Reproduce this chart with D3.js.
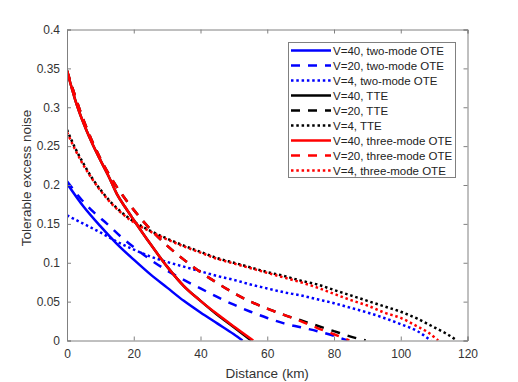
<!DOCTYPE html>
<html>
<head>
<meta charset="utf-8" />
<title>Tolerable excess noise</title>
<script src="https://d3js.org/d3.v7.min.js"></script>
<style>
  body { margin: 0; background: #fff; }
  svg { font-family: "Liberation Sans", Arial, sans-serif; }
  .tick text { fill: #333; font-size: 12px; }
</style>
</head>
<body>
<svg id="chart" width="518" height="382"></svg>
<script>
// distances (km) and tolerable excess noise
var blue40D = [0, 5, 10, 15, 20, 25, 30, 35, 40, 45, 50, 52.6];
var blue40V = [0.202, 0.172, 0.147, 0.124, 0.104, 0.085, 0.068, 0.051, 0.036, 0.022, 0.008, 0];
var blue20D = [0, 4, 8, 12, 16, 20, 25, 30, 35, 40, 45, 50, 55, 60, 65, 70, 75, 80, 84];
var blue20V = [0.205, 0.183, 0.165, 0.150, 0.134, 0.120, 0.104, 0.090, 0.078, 0.067, 0.056, 0.046, 0.037, 0.029, 0.022, 0.017, 0.012, 0.006, 0];
var blue4D = [0, 5, 10, 15, 20, 25, 30, 35, 40, 45, 50, 55, 60, 65, 70, 75, 80, 85, 90, 95, 100, 105, 109];
var blue4V = [0.161, 0.150, 0.139, 0.127, 0.117, 0.108, 0.101, 0.095, 0.089, 0.083, 0.078, 0.072, 0.067, 0.062, 0.058, 0.053, 0.048, 0.042, 0.036, 0.029, 0.021, 0.012, 0];

var black40D = [0, 2.5, 5, 7.5, 10, 12.5, 15, 17.5, 20, 25, 30, 35, 40, 45, 50, 55.2];
var black40V = [0.347, 0.309, 0.279, 0.254, 0.232, 0.211, 0.188, 0.171, 0.155, 0.124, 0.095, 0.070, 0.051, 0.033, 0.017, 0];
var black20D = [0, 5, 10, 15, 20, 25, 30, 35, 40, 45, 50, 55, 60, 65, 70, 75, 80, 85, 89.5];
var black20V = [0.347, 0.283, 0.234, 0.197, 0.168, 0.143, 0.122, 0.104, 0.088, 0.074, 0.061, 0.050, 0.041, 0.033, 0.026, 0.019, 0.012, 0.005, 0];
var black4D = [0, 2.5, 5, 7.5, 10, 12.5, 15, 20, 25, 30, 35, 40, 45, 50, 55, 60, 65, 70, 75, 80, 85, 90, 95, 100, 105, 110, 114, 116.8];
var black4V = [0.271, 0.247, 0.227, 0.209, 0.194, 0.181, 0.170, 0.153, 0.141, 0.131, 0.122, 0.114, 0.106, 0.100, 0.094, 0.088, 0.083, 0.077, 0.072, 0.065, 0.058, 0.051, 0.044, 0.037, 0.028, 0.017, 0.008, 0];

var red40D = [0, 2.5, 5, 7.5, 10, 12.5, 15, 17.5, 20, 25, 30, 35, 40, 45, 50, 55.8];
var red40V = [0.347, 0.309, 0.279, 0.254, 0.232, 0.211, 0.188, 0.171, 0.155, 0.124, 0.095, 0.070, 0.051, 0.034, 0.018, 0];
var red20D = [0, 5, 10, 15, 20, 25, 30, 35, 40, 45, 50, 55, 60, 65, 70, 75, 80, 84.6];
var red20V = [0.347, 0.283, 0.234, 0.197, 0.168, 0.143, 0.122, 0.104, 0.088, 0.074, 0.061, 0.050, 0.041, 0.033, 0.025, 0.016, 0.008, 0];
var red4D = [0, 2.5, 5, 7.5, 10, 12.5, 15, 20, 25, 30, 35, 40, 45, 50, 55, 60, 65, 70, 75, 80, 85, 90, 95, 100, 105, 108, 111.2];
var red4V = [0.268, 0.245, 0.225, 0.208, 0.193, 0.180, 0.169, 0.152, 0.140, 0.130, 0.121, 0.113, 0.105, 0.099, 0.093, 0.087, 0.081, 0.075, 0.068, 0.060, 0.052, 0.045, 0.036, 0.029, 0.018, 0.011, 0];

var seriesNames = ["V=40, two-mode OTE", "V=20, two-mode OTE", "V=4, two-mode OTE",
  "V=40, TTE", "V=20, TTE", "V=4, TTE",
  "V=40, three-mode OTE", "V=20, three-mode OTE", "V=4, three-mode OTE"];
var xTicks = [0, 20, 40, 60, 80, 100, 120];
var yTicks = [0, 0.05, 0.1, 0.15, 0.2, 0.25, 0.3, 0.35, 0.4];

var series = [
  {d: blue40D, v: blue40V, color: "#0000ff", dash: null},
  {d: blue20D, v: blue20V, color: "#0000ff", dash: "9,8"},
  {d: blue4D, v: blue4V, color: "#0000ff", dash: "2.5,2.8"},
  {d: black40D, v: black40V, color: "#000000", dash: null},
  {d: black20D, v: black20V, color: "#000000", dash: "9,8"},
  {d: black4D, v: black4V, color: "#000000", dash: "2.5,2.8"},
  {d: red40D, v: red40V, color: "#ff0000", dash: null},
  {d: red20D, v: red20V, color: "#ff0000", dash: "9,8"},
  {d: red4D, v: red4V, color: "#ff0000", dash: "2.5,2.8"}
];
series.forEach(function(s, i) { s.name = seriesNames[i]; });

var plotL = 67, plotR = 467.5, plotT = 29.5, plotB = 340.5;
var axisColor = "#808080";

var svg = d3.select("#chart");

var x = d3.scaleLinear().domain([0, 120]).range([plotL, plotR]);
var y = d3.scaleLinear().domain([0, 0.4]).range([plotB, plotT]);

svg.append("defs").append("clipPath").attr("id", "plotclip")
  .append("rect").attr("x", plotL).attr("y", plotT - 2)
  .attr("width", plotR - plotL + 2).attr("height", plotB - plotT + 2);

// curves
var line = d3.line()
  .x(function(p) { return x(p[0]); })
  .y(function(p) { return y(p[1]); })
  .curve(d3.curveMonotoneX);

svg.append("g").attr("clip-path", "url(#plotclip)")
  .selectAll("path")
  .data(series)
  .enter().append("path")
  .attr("d", function(s) { return line(d3.zip(s.d, s.v)); })
  .attr("fill", "none")
  .attr("stroke", function(s) { return s.color; })
  .attr("stroke-width", 2.5)
  .attr("stroke-dasharray", function(s) { return s.dash; });

// axes, ticks point inward as in the original
var fmtY = function(d) { return d3.format("~g")(d); };

var gx = svg.append("g").attr("transform", "translate(0," + plotB + ")")
  .call(d3.axisBottom(x).tickValues(xTicks).tickSize(-4).tickPadding(9));
var gxt = svg.append("g").attr("transform", "translate(0," + plotT + ")")
  .call(d3.axisTop(x).tickValues(xTicks).tickSize(-4).tickFormat(""));
var gy = svg.append("g").attr("transform", "translate(" + plotL + ",0)")
  .call(d3.axisLeft(y).tickValues(yTicks).tickSize(-4).tickPadding(7).tickFormat(fmtY));
var gyr = svg.append("g").attr("transform", "translate(" + plotR + ",0)")
  .call(d3.axisRight(y).tickValues(yTicks).tickSize(-4).tickFormat(""));

[gx, gxt, gy, gyr].forEach(function(g) {
  g.select(".domain").attr("stroke", axisColor).attr("stroke-width", 1);
  g.selectAll(".tick line").attr("stroke", axisColor);
  g.selectAll(".tick text").attr("font-family", "Liberation Sans, Arial, sans-serif");
});

svg.append("text")
  .attr("x", (plotL + plotR) / 2).attr("y", 378)
  .attr("text-anchor", "middle").attr("fill", "#333").attr("font-size", 13.5)
  .text("Distance (km)");

svg.append("text")
  .attr("transform", "translate(31,178) rotate(-90)")
  .attr("text-anchor", "middle").attr("fill", "#333").attr("font-size", 13.5)
  .text("Tolerable excess noise");

// legend
var lg = svg.append("g");
lg.append("rect")
  .attr("x", 288.5).attr("y", 42.5).attr("width", 167).attr("height", 135)
  .attr("fill", "#fff").attr("stroke", axisColor).attr("stroke-width", 1);

var rows = lg.selectAll("g.row").data(series).enter().append("g")
  .attr("class", "row")
  .attr("transform", function(s, i) { return "translate(0," + (50.5 + i * 15) + ")"; });

rows.append("line")
  .attr("x1", 291).attr("x2", 331).attr("y1", 0).attr("y2", 0)
  .attr("stroke", function(s) { return s.color; })
  .attr("stroke-width", 2.5)
  .attr("stroke-dasharray", function(s) { return s.dash; });

rows.append("text")
  .attr("x", 333).attr("y", 4)
  .attr("fill", "#222").attr("font-size", 11.5)
  .text(function(s) { return s.name; });
</script>
</body>
</html>
